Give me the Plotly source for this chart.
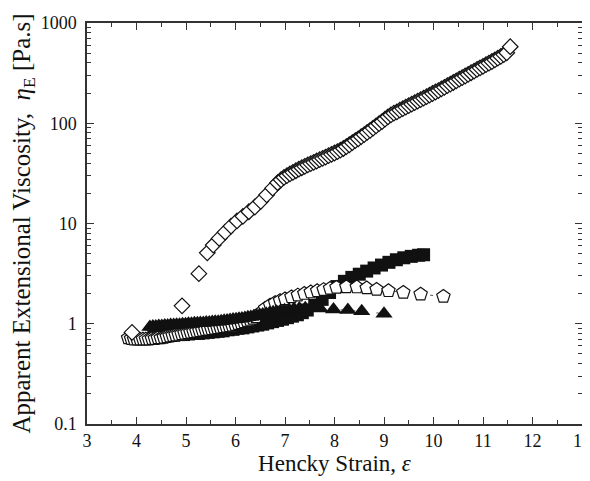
import plotly.graph_objects as go

# ---- data ----
dia_x = [3.91, 4.92, 5.26, 5.43, 5.55, 5.67, 5.79, 5.91, 6.03, 6.15, 6.27, 6.39, 6.51, 6.63, 6.75,
         6.85, 6.92, 6.98, 7.04, 7.10, 7.16, 7.22, 7.28, 7.34, 7.40, 7.46, 7.52, 7.58, 7.64, 7.70,
         7.76, 7.82, 7.88, 7.94, 8.00, 8.06, 8.12, 8.18, 8.24, 8.30, 8.36, 8.42, 8.48, 8.54, 8.60,
         8.66, 8.72, 8.78, 8.84, 8.90, 8.96, 9.02, 9.08, 9.14, 9.20, 9.26, 9.32, 9.38, 9.44, 9.50,
         9.56, 9.62, 9.68, 9.74, 9.80, 9.86, 9.92, 9.98, 10.04, 10.10, 10.16, 10.22, 10.28, 10.34,
         10.40, 10.46, 10.52, 10.58, 10.64, 10.70, 10.76, 10.82, 10.88, 10.94, 11.00, 11.06, 11.12,
         11.18, 11.24, 11.30, 11.36, 11.42, 11.48, 11.55]
dia_y = [0.82, 1.51, 3.16, 5.1, 6.1, 7.1, 8.2, 9.4, 10.6, 11.8, 13.1, 14.6, 16.6, 19.3, 22.5,
         25.5, 27.3, 28.8, 30.0, 31.2, 32.4, 33.6, 34.8, 36.0, 37.2, 38.4, 39.6, 40.8, 42.0, 43.3,
         44.6, 46.0, 47.5, 49.0, 50.5, 52.2, 54.0, 56.0, 58.5, 61.0, 64.0, 67.0, 70.0, 73.5, 77.0,
         81.0, 85.0, 89.5, 94.0, 99.0, 104, 110, 116, 121, 126, 130, 135, 140, 145, 150,
         155, 160.5, 166, 172, 178, 184, 191, 198, 205, 212, 220, 228, 237, 246,
         255, 265, 275, 285, 296, 307, 319, 331, 344, 357, 370, 384, 398,
         413, 429, 446, 464, 484, 505, 580]

sq_x = [4.35, 4.45, 4.55, 4.65, 4.75, 4.85, 4.95, 5.05, 5.15, 5.25, 5.35, 5.45, 5.55, 5.65, 5.75,
        5.85, 5.95, 6.05, 6.15, 6.25, 6.35, 6.45, 6.55, 6.65, 6.75, 6.85, 6.95, 7.05, 7.15, 7.25,
        7.35, 7.45, 7.6, 7.75, 7.9, 8.05, 8.2, 8.35, 8.5, 8.65, 8.8, 8.95, 9.1, 9.25, 9.4, 9.55,
        9.7, 9.8]
sq_y = [0.76, 0.76, 0.76, 0.77, 0.77, 0.78, 0.78, 0.79, 0.80, 0.80, 0.81, 0.82, 0.83, 0.84, 0.85,
        0.87, 0.88, 0.90, 0.91, 0.93, 0.95, 0.97, 0.99, 1.02, 1.05, 1.08, 1.11, 1.15, 1.19, 1.23,
        1.29, 1.37, 1.53, 1.75, 2.05, 2.35, 2.65, 2.9, 3.12, 3.35, 3.6, 3.85, 4.1, 4.35, 4.55, 4.7,
        4.82, 4.88]

pent_x = [3.83, 3.89, 3.95, 4.01, 4.07, 4.13, 4.19, 4.25, 4.31, 4.37, 4.43, 4.49, 4.55, 4.61, 4.67,
          4.73, 4.79, 4.85, 4.91, 4.97, 5.03, 5.09, 5.15, 5.21, 5.27, 5.33, 5.39, 5.45, 5.51, 5.57,
          5.63, 5.69, 5.75, 5.81, 5.87, 5.93, 5.99, 6.05, 6.11, 6.17, 6.23, 6.29, 6.35, 6.41, 6.5,
          6.6, 6.7, 6.8, 6.9, 7.0, 7.13, 7.26, 7.39, 7.52, 7.65, 7.78, 7.91, 8.04, 8.24, 8.45, 8.65,
          8.85, 9.09, 9.39, 9.74, 10.2]
pent_y = [0.72, 0.71, 0.70, 0.70, 0.70, 0.70, 0.70, 0.70, 0.71, 0.71, 0.72, 0.72, 0.73, 0.74, 0.75,
          0.76, 0.77, 0.78, 0.79, 0.80, 0.81, 0.82, 0.83, 0.84, 0.85, 0.86, 0.87, 0.88, 0.89, 0.90,
          0.91, 0.92, 0.93, 0.94, 0.95, 0.96, 0.98, 1.00, 1.02, 1.04, 1.07, 1.10, 1.13, 1.17, 1.28,
          1.42, 1.53, 1.62, 1.70, 1.77, 1.85, 1.93, 2.0, 2.07, 2.13, 2.19, 2.25, 2.30, 2.33, 2.32, 2.27,
          2.20, 2.13, 2.05, 1.97, 1.87]

tri_x = [4.27, 4.33, 4.39, 4.45, 4.51, 4.57, 4.63, 4.69, 4.75, 4.81, 4.87, 4.93, 4.99, 5.05, 5.11,
         5.17, 5.23, 5.29, 5.35, 5.41, 5.47, 5.53, 5.59, 5.65, 5.71, 5.77, 5.83, 5.89, 5.95, 6.01,
         6.07, 6.13, 6.19, 6.25, 6.31, 6.37, 6.43, 6.49, 6.55, 6.62, 6.69, 6.76, 6.83, 6.91, 6.99,
         7.08, 7.18, 7.29, 7.41, 7.55, 7.71, 7.98, 8.27, 8.55, 9.00]
tri_y = [0.93, 0.94, 0.94, 0.95, 0.95, 0.96, 0.96, 0.97, 0.97, 0.98, 0.98, 0.99, 0.99, 1.00, 1.00,
         1.01, 1.01, 1.02, 1.02, 1.03, 1.03, 1.04, 1.05, 1.05, 1.06, 1.07, 1.08, 1.09, 1.10, 1.11,
         1.12, 1.13, 1.14, 1.16, 1.17, 1.19, 1.20, 1.22, 1.24, 1.26, 1.28, 1.30, 1.32, 1.34, 1.36,
         1.38, 1.40, 1.42, 1.43, 1.43, 1.42, 1.39, 1.37, 1.33, 1.26]

x_ticks = [3, 4, 5, 6, 7, 8, 9, 10, 11, 12, 13]
y_ticks = [0.1, 1, 10, 100, 1000]
y_tick_text = ["0.1", "1", "10", "100", "1000"]

INK = "#111111"
AX = "#333333"
FONT = "Liberation Serif"

fig = go.Figure()

fig.add_trace(go.Scatter(x=sq_x, y=sq_y, mode="markers",
                         marker=dict(symbol="square", size=13, color=INK, line=dict(width=0))))
fig.add_trace(go.Scatter(x=pent_x, y=pent_y, mode="lines+markers",
                         line=dict(color="#555555", width=1, dash="3px,9px"),
                         marker=dict(symbol="pentagon", size=14, color="white",
                                     line=dict(color=INK, width=1.2))))
fig.add_trace(go.Scatter(x=tri_x, y=tri_y, mode="lines+markers",
                         line=dict(color="#555555", width=1, dash="3px,9px"),
                         marker=dict(symbol="triangle-up", size=15, color=INK, line=dict(width=0))))
fig.add_trace(go.Scatter(x=dia_x, y=dia_y, mode="markers",
                         marker=dict(symbol="diamond", size=12, color="white",
                                     line=dict(color=INK, width=1.2))))

minor_y = []
for d in [0.1, 1, 10, 100]:
    for m in range(2, 10):
        minor_y.append(d * m)

fig.update_layout(
    width=590, height=473,
    margin=dict(l=79, r=16, t=15, b=57),
    paper_bgcolor="white", plot_bgcolor="white",
    showlegend=False,
    font=dict(family=FONT, color="#111111", size=18),
)
fig.update_xaxes(
    range=[3, 13], tickvals=x_ticks, ticktext=[str(v) for v in x_ticks],
    ticks="inside", ticklen=7, tickwidth=1.3, tickcolor=AX,
    showline=True, linecolor=AX, linewidth=1.5, mirror="ticks",
    showgrid=False, zeroline=False, automargin=False, ticklabeloverflow="allow",
    minor=dict(dtick=0.5, tick0=3, ticks="inside", ticklen=4, tickwidth=1.1, tickcolor=AX, showgrid=False),
    tickfont=dict(family=FONT, size=18),
    title=dict(text="Hencky Strain, <i>ε</i>", font=dict(family=FONT, size=23), standoff=2),
)
fig.update_yaxes(
    type="log", range=[-1, 3], tickvals=y_ticks, ticktext=y_tick_text,
    ticks="inside", ticklen=7, tickwidth=1.3, tickcolor=AX,
    showline=True, linecolor=AX, linewidth=1.5, mirror="ticks",
    showgrid=False, zeroline=False, automargin=False, ticklabelstandoff=5,
    minor=dict(tickvals=minor_y, ticks="inside", ticklen=4, tickwidth=1.1, tickcolor=AX, showgrid=False),
    tickfont=dict(family=FONT, size=18),
    title=dict(text="Apparent Extensional Viscosity,  <i>η</i><sub>E</sub> [Pa.s]",
               font=dict(family=FONT, size=25), standoff=6),
)

fig.write_html("out.html")
